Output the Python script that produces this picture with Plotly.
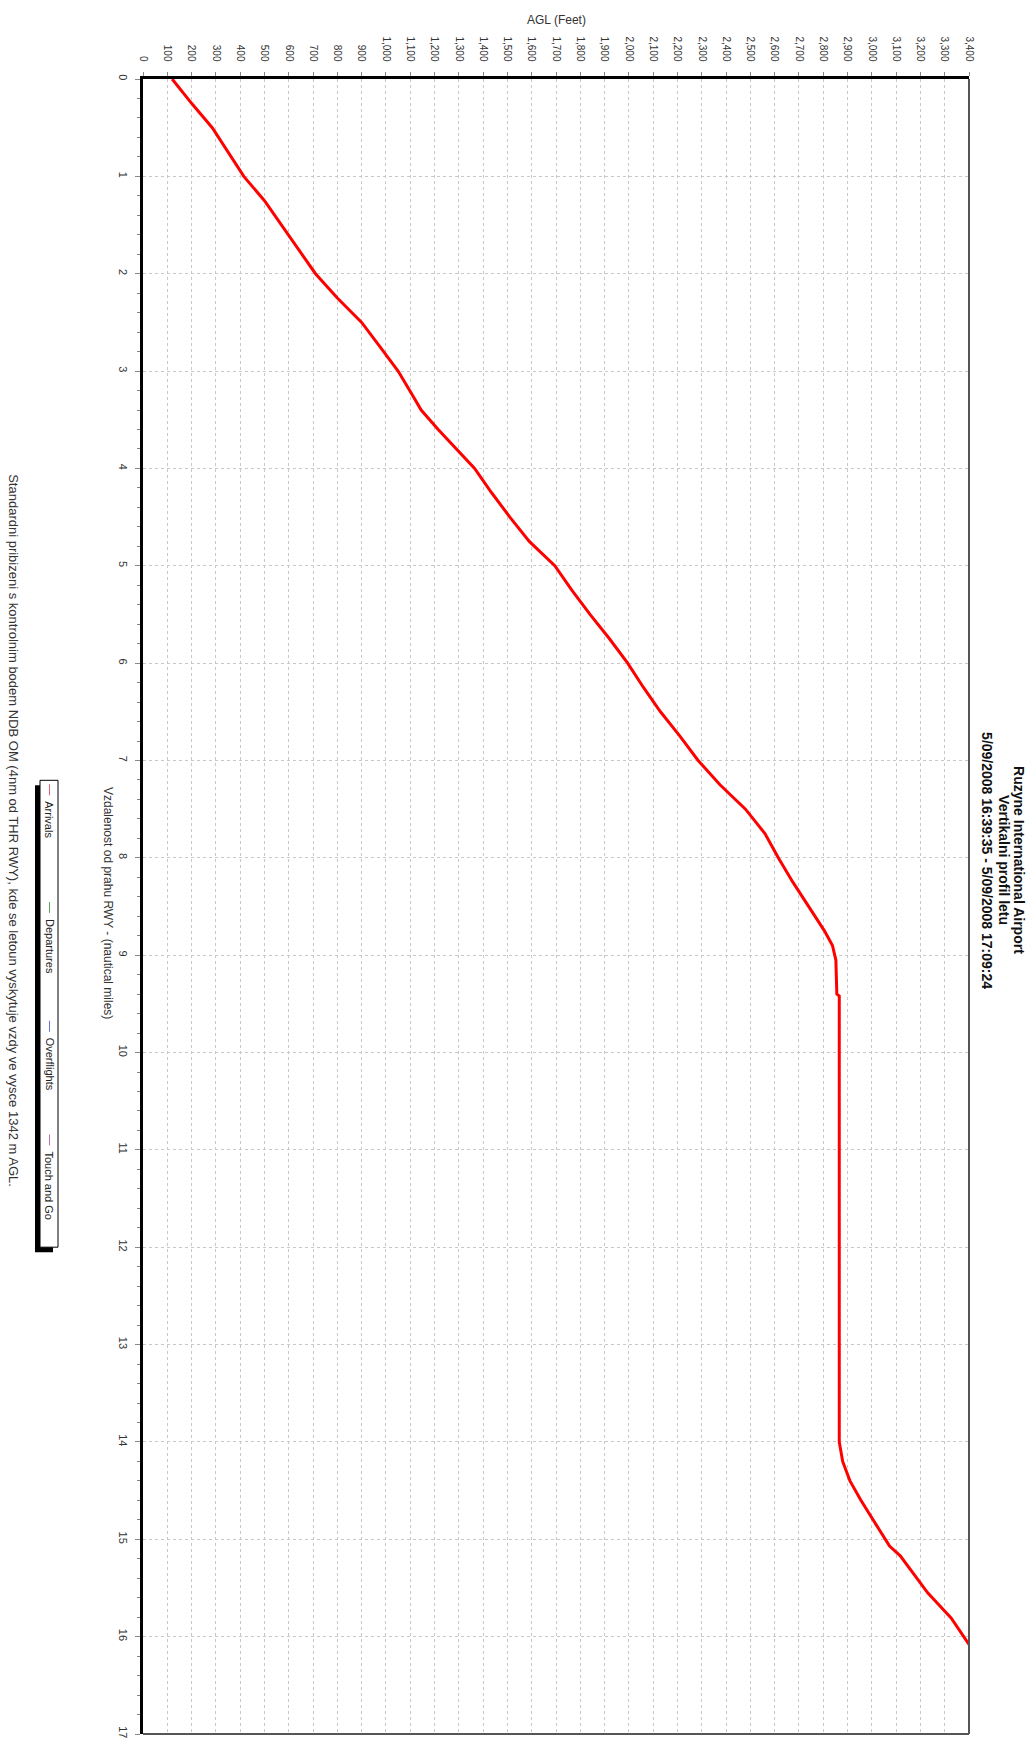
import plotly.graph_objects as go

# ---------------- data ----------------
distance_nm = [0, 0.25, 0.5, 0.75, 1.0, 1.25, 1.5, 1.75, 2.0, 2.25, 2.5, 2.75, 3.0, 3.25, 3.4,
               3.6, 3.8, 4.0, 4.25, 4.5, 4.75, 5.0, 5.25, 5.5, 5.75, 6.0, 6.25, 6.5, 6.75,
               7.0, 7.25, 7.5, 7.75, 8.0, 8.25, 8.5, 8.75, 8.9, 9.05, 9.4, 9.42, 10, 11, 12,
               13, 14.0, 14.2, 14.4, 14.6, 14.8, 15.07, 15.17, 15.55, 15.81, 16.08]
agl_feet = [120, 200, 285, 350, 415, 500, 570, 640, 710, 800, 900, 975, 1050, 1110, 1145,
            1215, 1290, 1365, 1435, 1510, 1590, 1695, 1765, 1840, 1920, 1995, 2060, 2130, 2210,
            2285, 2375, 2480, 2560, 2615, 2675, 2740, 2805, 2838, 2852, 2856, 2866, 2866, 2866, 2866,
            2866, 2866, 2880, 2910, 2955, 3005, 3073, 3117, 3230, 3327, 3400]

legend_names = ["Arrivals", "Departures", "Overflights", "Touch and Go"]
legend_colors = ["#e06070", "#60a860", "#7070d8", "#c070b0"]

title_lines = ["Ruzyne International Airport", "Vertikalni profil letu",
               "5/09/2008 16:39:35 - 5/09/2008 17:09:24"]
x_title = "AGL (Feet)"
y_title = "Vzdalenost od prahu RWY - (nautical miles)"
footnote = ("Standardni pribizeni s kontrolnim bodem NDB OM (4nm od THR RWY), "
            "kde se letoun vyskytuje vzdy ve vysce 1342 m AGL.")

# ---------------- layout geometry (pixels) ----------------
W_FIG, H_FIG = 1030, 1744
L, R, T, B = 143, 969, 79, 1738
PW, PH = R - L, B - T


def px(x):
    return (x - L) / PW


def py(y):
    return (B - y) / PH


FONT = "Liberation Sans, Arial, sans-serif"

fig = go.Figure()
fig.add_trace(go.Scatter(x=agl_feet, y=distance_nm, mode="lines",
                         line=dict(color="#ff0000", width=3), showlegend=False,
                         hoverinfo="skip"))

agl_ticks = list(range(0, 3401, 100))
dist_ticks = list(range(0, 18))

fig.update_layout(
    width=W_FIG, height=H_FIG,
    margin=dict(l=L, r=W_FIG - R, t=T, b=H_FIG - B, pad=0),
    paper_bgcolor="white", plot_bgcolor="white",
    font=dict(family=FONT, size=10, color="#333333"),
    showlegend=False,
    xaxis=dict(range=[0, 3400], side="top", tickvals=agl_ticks,
               ticktext=[f"{v:,}" for v in agl_ticks], tickangle=90,
               ticks="outside", ticklen=4, tickcolor="#888888", ticklabelstandoff=7,
               showgrid=True, gridcolor="#c8c8c8", griddash="dot", gridwidth=1,
               showline=True, linecolor="black", linewidth=3, zeroline=False,
               tickfont=dict(size=10, color="#333333")),
    yaxis=dict(range=[17, 0], tickvals=dist_ticks, tickangle=90,
               ticks="outside", ticklen=5, tickcolor="#888888", ticklabelstandoff=3,
               minor=dict(dtick=0.2, ticks="outside", ticklen=3, tickcolor="#888888",
                          showgrid=False),
               showgrid=True, gridcolor="#c8c8c8", griddash="dot", gridwidth=1,
               showline=True, linecolor="black", linewidth=3, zeroline=False,
               tickfont=dict(size=11, color="#333333")),
)

shapes = []
# right / bottom frame
shapes.append(dict(type="line", xref="paper", yref="paper", x0=1, x1=1, y0=0, y1=1,
                   line=dict(color="#555555", width=2)))
shapes.append(dict(type="line", xref="paper", yref="paper", x0=0, x1=1, y0=0, y1=0,
                   line=dict(color="#555555", width=2)))

# legend shadow + box
shapes.append(dict(type="rect", xref="paper", yref="paper", x0=px(35), x1=px(53),
                   y0=py(1255), y1=py(787), fillcolor="black", line=dict(width=0)))
shapes.append(dict(type="rect", xref="paper", yref="paper", x0=px(40), x1=px(58),
                   y0=py(1250), y1=py(782), fillcolor="white",
                   line=dict(color="black", width=1)))

annotations = []
leg_line_tops = [786, 904, 1023, 1137]
for name, col, y0 in zip(legend_names, legend_colors, leg_line_tops):
    shapes.append(dict(type="line", xref="paper", yref="paper", x0=px(49.5), x1=px(49.5),
                       y0=py(y0), y1=py(y0 + 11), line=dict(color=col, width=1)))
    annotations.append(dict(xref="paper", yref="paper", x=px(49.5), y=py(y0 + 15),
                            text=name, textangle=90, showarrow=False,
                            xanchor="center", yanchor="top",
                            font=dict(family=FONT, size=11, color="#222222")))

# titles (rotated, one annotation per line)
for line, xc in zip(title_lines, [1019, 1004, 987]):
    annotations.append(dict(xref="paper", yref="paper", x=px(xc), y=py(862),
                            text=line, textangle=90, showarrow=False,
                            xanchor="center", yanchor="middle",
                            font=dict(family=FONT, size=14, color="#111111", weight="bold")))
annotations.append(dict(xref="paper", yref="paper", x=px(556), y=py(20),
                        text=x_title, showarrow=False, xanchor="center", yanchor="middle",
                        font=dict(family=FONT, size=12, color="#333333")))
annotations.append(dict(xref="paper", yref="paper", x=px(108), y=py(905),
                        text=y_title, textangle=90, showarrow=False,
                        xanchor="center", yanchor="middle",
                        font=dict(family=FONT, size=12, color="#333333")))
annotations.append(dict(xref="paper", yref="paper", x=px(14), y=py(832),
                        text=footnote, textangle=90, showarrow=False,
                        xanchor="center", yanchor="middle",
                        font=dict(family=FONT, size=13, color="#333333")))

fig.update_layout(shapes=shapes, annotations=annotations)
fig.write_html("out.html", config={"displayModeBar": False},
               post_script="document.body.style.margin='0px';"
                           "document.body.style.overflow='hidden';")
